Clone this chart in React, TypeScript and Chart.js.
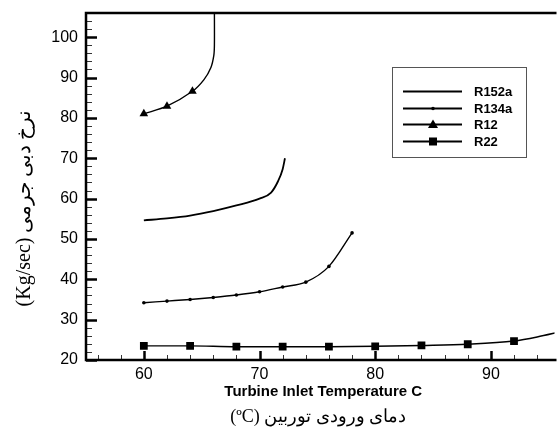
import React, { useEffect, useRef } from 'react';
import { Chart, registerables } from 'chart.js';

Chart.register(...registerables);

// ---- data ----
const r152aTemp = [60, 62, 64, 66, 68, 70, 71, 71.6, 72, 72.2];
const r152aFlow = [54.6, 55.1, 55.8, 56.9, 58.3, 60.0, 61.5, 64.3, 67.3, 70.0];

const r134aTemp = [60, 62, 64, 66, 68, 70, 72, 74, 76, 78];
const r134aFlow = [34.2, 34.6, 35.0, 35.5, 36.1, 36.9, 38.1, 39.3, 43.2, 51.5];

const r12Temp = [60, 62, 64.2, 65.2, 65.8, 66.05, 66.1, 66.1];
const r12Flow = [81.0, 82.9, 86.6, 89.5, 92.5, 95.5, 98.0, 107.0];
const r12Marked = [true, true, true, false, false, false, false, false];

const r22Temp = [60, 64, 68, 72, 76, 80, 84, 88, 92, 94, 96];
const r22Flow = [23.5, 23.5, 23.3, 23.3, 23.3, 23.4, 23.6, 23.9, 24.7, 25.7, 27.0];
const r22Marked = [true, true, true, true, true, true, true, true, true, false, false];

const seriesLabels = ['R152a', 'R134a', 'R12', 'R22'];
const xTicks = [60, 70, 80, 90];
const yTicks = [20, 30, 40, 50, 60, 70, 80, 90, 100];
const xRange = [55, 95.5];
const yRange = [20, 106];

const xTitle = 'Turbine Inlet Temperature C';
const xTitleFa = '(ºC) دمای ورودی توربین';
const yTitle = '(Kg/sec) نرخ دبی جرمی';

const toPoints = (xs: number[], ys: number[]) => xs.map((x, i) => ({ x, y: ys[i] }));

const markerStyles = ['line', 'circle', 'triangle', 'rect'];

function drawMarker(ctx: CanvasRenderingContext2D, kind: string, cx: number, cy: number) {
  ctx.beginPath();
  if (kind === 'circle') {
    ctx.arc(cx, cy, 1.8, 0, Math.PI * 2);
    ctx.fill();
  } else if (kind === 'triangle') {
    ctx.moveTo(cx, cy - 5);
    ctx.lineTo(cx + 5, cy + 3.5);
    ctx.lineTo(cx - 5, cy + 3.5);
    ctx.closePath();
    ctx.fill();
  } else if (kind === 'rect') {
    ctx.rect(cx - 4, cy - 4, 8, 8);
    ctx.fill();
  }
}

const framePlugin = {
  id: 'frame',
  afterDraw(chart: any) {
    const { ctx, chartArea: a, scales } = chart;
    const xs = scales.x;
    const ys = scales.y;
    ctx.save();
    ctx.strokeStyle = '#000';
    ctx.fillStyle = '#000';

    // y ticks (inward)
    for (let v = yRange[0]; v <= yRange[1]; v += 2) {
      const py = Math.round(ys.getPixelForValue(v)) + 0.5;
      const major = v % 10 === 0;
      ctx.lineWidth = major ? 2.5 : 1;
      ctx.strokeStyle = major ? '#000' : '#333';
      ctx.beginPath();
      ctx.moveTo(a.left, py);
      ctx.lineTo(a.left + (major ? 11 : 6), py);
      ctx.stroke();
    }
    // x ticks (inward)
    for (let v = 56; v <= xRange[1]; v += 2) {
      const px = Math.round(xs.getPixelForValue(v)) + 0.5;
      const major = v % 10 === 0;
      ctx.lineWidth = major ? 2.5 : 1;
      ctx.strokeStyle = major ? '#000' : '#333';
      ctx.beginPath();
      ctx.moveTo(px, a.bottom);
      ctx.lineTo(px, a.bottom - (major ? 9 : 5));
      ctx.stroke();
    }

    // frame: left, bottom, top
    ctx.strokeStyle = '#000';
    ctx.lineWidth = 2.5;
    ctx.beginPath();
    ctx.moveTo(a.right + 2, a.top);
    ctx.lineTo(a.left, a.top);
    ctx.lineTo(a.left, a.bottom);
    ctx.lineTo(a.right + 2, a.bottom);
    ctx.stroke();

    // titles
    ctx.textAlign = 'center';
    ctx.textBaseline = 'middle';
    ctx.font = 'bold 15px "Liberation Sans", Arial, sans-serif';
    ctx.fillText(xTitle, (a.left + a.right) / 2 + 3, 392);
    ctx.font = '18px "Liberation Serif", "DejaVu Serif", serif';
    ctx.fillText(xTitleFa, (a.left + a.right) / 2 - 2, 417);

    ctx.save();
    ctx.translate(25, 208);
    ctx.rotate(-Math.PI / 2);
    ctx.font = '20px "Liberation Serif", "DejaVu Serif", serif';
    ctx.fillText(yTitle, 0, 0);
    ctx.restore();

    // legend
    ctx.lineWidth = 1;
    ctx.strokeStyle = '#555';
    ctx.strokeRect(392.5, 67.5, 134, 90);
    ctx.font = 'bold 13px "Liberation Sans", Arial, sans-serif';
    ctx.textAlign = 'left';
    seriesLabels.forEach((label, i) => {
      const ry = Math.round(91 + i * 16.6) + 0.5;
      ctx.strokeStyle = '#000';
      ctx.lineWidth = 1.8;
      ctx.beginPath();
      ctx.moveTo(403, ry);
      ctx.lineTo(462, ry);
      ctx.stroke();
      drawMarker(ctx, markerStyles[i], 433, ry);
      ctx.fillText(label, 474, ry + 1);
    });

    ctx.restore();
  },
};

export default function App() {
  const ref = useRef<HTMLCanvasElement>(null);

  useEffect(() => {
    if (!ref.current) return;
    const chart = new Chart(ref.current, {
      type: 'line',
      data: {
        datasets: [
          {
            label: seriesLabels[0],
            data: toPoints(r152aTemp, r152aFlow),
            borderColor: '#000',
            borderWidth: 1.8,
            pointRadius: 0,
            cubicInterpolationMode: 'monotone',
          },
          {
            label: seriesLabels[1],
            data: toPoints(r134aTemp, r134aFlow),
            borderColor: '#000',
            backgroundColor: '#000',
            borderWidth: 1.4,
            pointRadius: 1.8,
            pointBorderWidth: 0,
            pointStyle: 'circle',
            cubicInterpolationMode: 'monotone',
          },
          {
            label: seriesLabels[2],
            data: toPoints(r12Temp, r12Flow),
            borderColor: '#000',
            backgroundColor: '#000',
            borderWidth: 1.4,
            pointRadius: r12Marked.map((m) => (m ? 5 : 0)),
            pointBorderWidth: 0,
            pointStyle: 'triangle',
            tension: 0.3,
          },
          {
            label: seriesLabels[3],
            data: toPoints(r22Temp, r22Flow),
            borderColor: '#000',
            backgroundColor: '#000',
            borderWidth: 1.4,
            pointRadius: r22Marked.map((m) => (m ? 5.5 : 0)),
            pointBorderWidth: 0,
            pointStyle: 'rect',
            cubicInterpolationMode: 'monotone',
          },
        ],
      },
      options: {
        responsive: false,
        devicePixelRatio: 1,
        animation: false,
        layout: { padding: { top: 13, left: 0, right: 0, bottom: 0 } },
        plugins: { legend: { display: false }, tooltip: { enabled: false } },
        scales: {
          x: {
            type: 'linear',
            min: xRange[0],
            max: xRange[1],
            afterBuildTicks: (s: any) => {
              s.ticks = xTicks.map((v) => ({ value: v }));
            },
            afterFit: (s: any) => {
              s.height = 72;
              s.paddingLeft = 0;
              s.paddingRight = 0;
            },
            grid: { display: false, drawTicks: false },
            border: { display: false },
            ticks: {
              color: '#000',
              padding: 5,
              maxRotation: 0,
              font: { family: '"Liberation Sans", Arial, sans-serif', size: 16 },
            },
          },
          y: {
            type: 'linear',
            min: yRange[0],
            max: yRange[1],
            afterBuildTicks: (s: any) => {
              s.ticks = yTicks.map((v) => ({ value: v }));
            },
            afterFit: (s: any) => {
              s.width = 86;
              s.paddingTop = 0;
              s.paddingBottom = 0;
            },
            grid: { display: false, drawTicks: false },
            border: { display: false },
            ticks: {
              color: '#000',
              padding: 8,
              font: { family: '"Liberation Sans", Arial, sans-serif', size: 16 },
            },
          },
        },
      },
      plugins: [framePlugin],
    } as any);
    return () => chart.destroy();
  }, []);

  return (
    <div style={{ position: 'fixed', left: 0, top: 0, width: 560, height: 432, background: '#fff', overflow: 'hidden' }}>
      <canvas ref={ref} width={560} height={432} style={{ display: 'block' }} />
    </div>
  );
}
